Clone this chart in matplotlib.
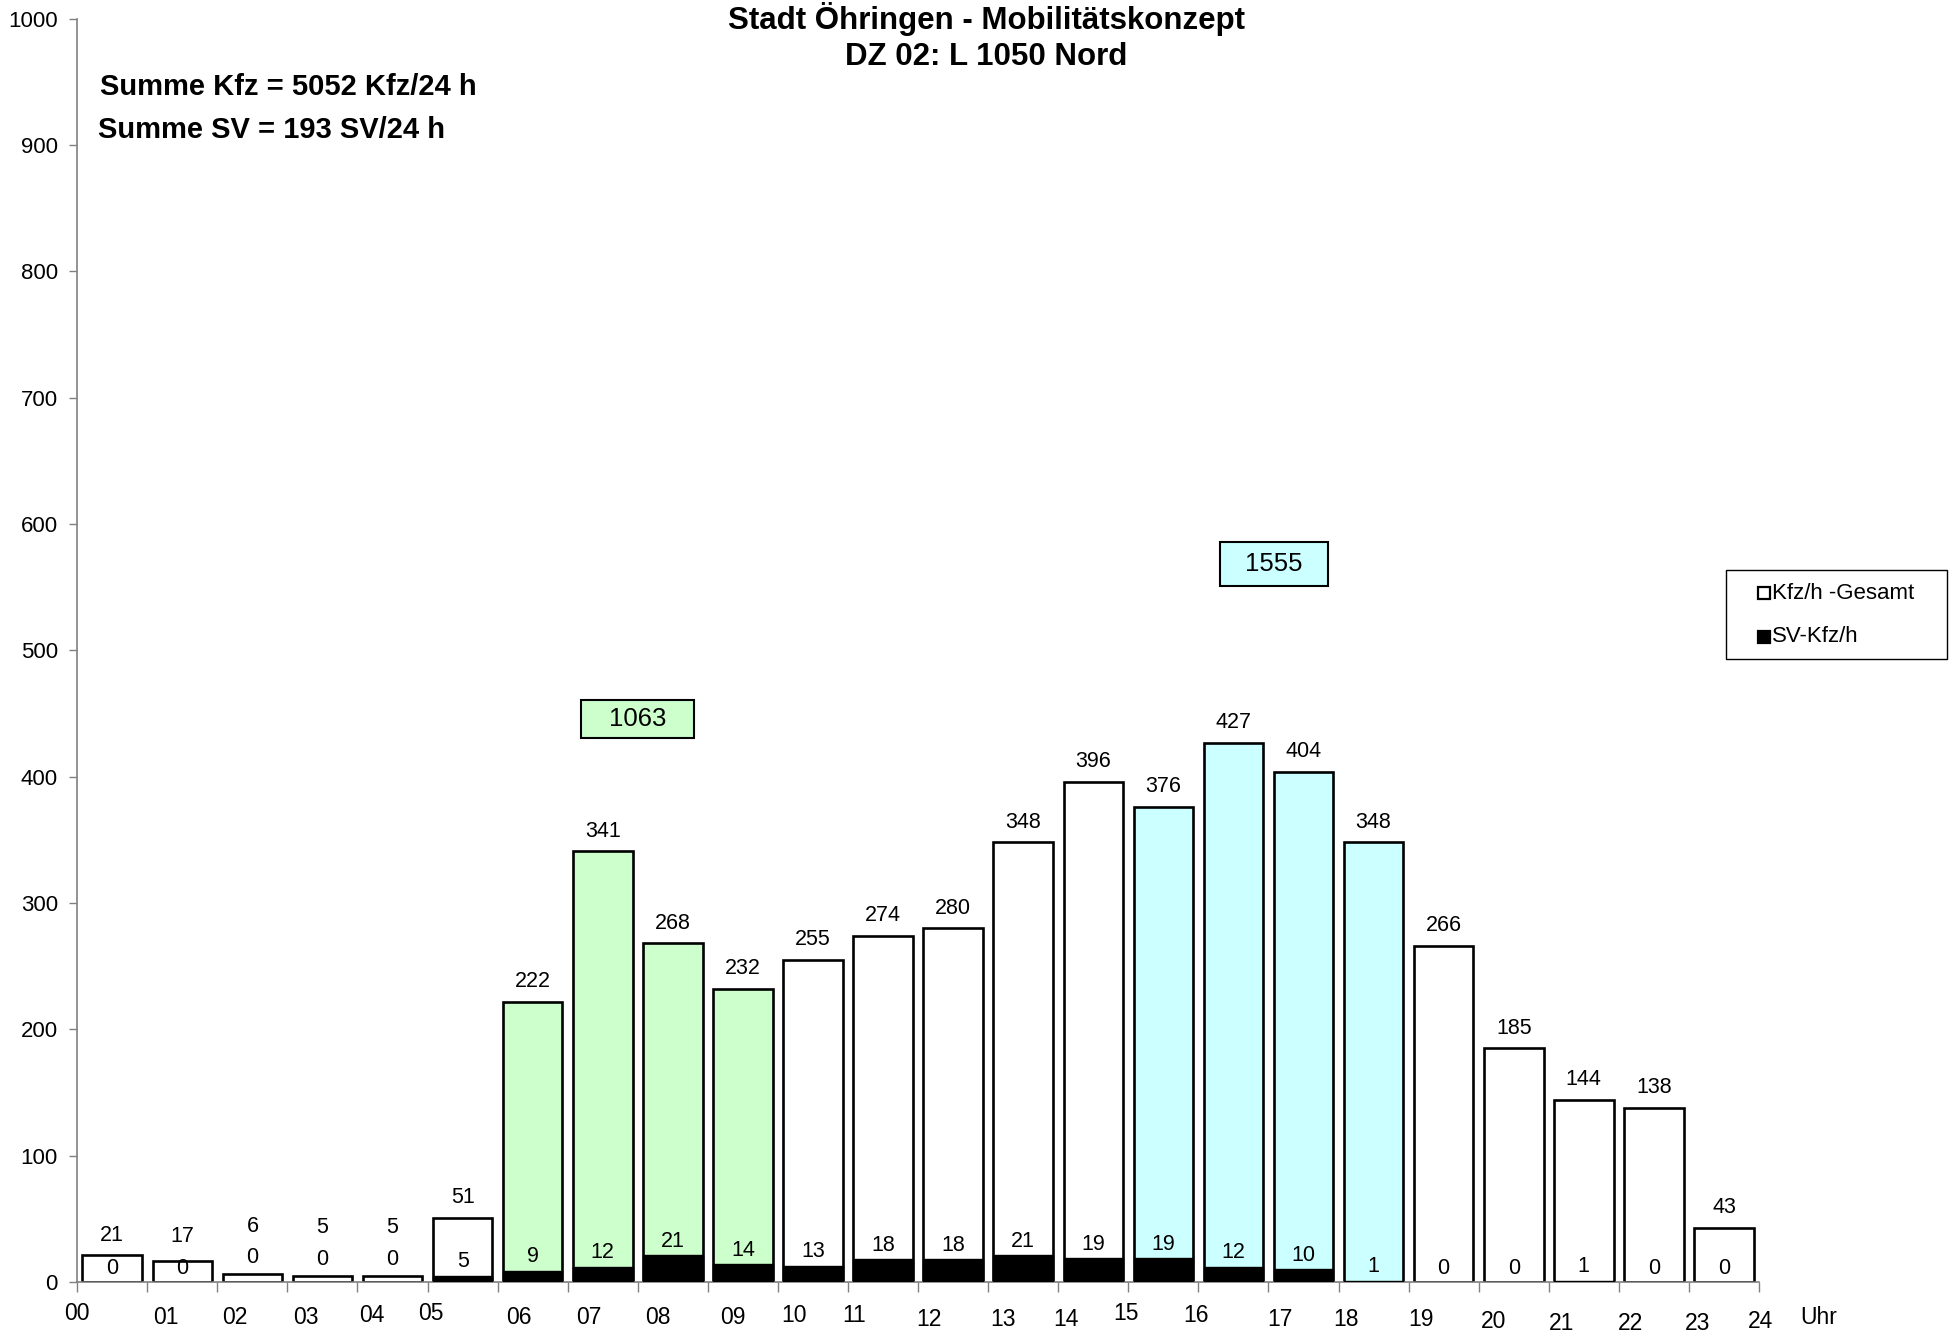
import matplotlib
matplotlib.use("Agg")
import matplotlib.pyplot as plt
from matplotlib.lines import Line2D
from matplotlib.patches import Rectangle

plt.rcParams['font.family'] = ['Liberation Sans', 'DejaVu Sans']

# ---------------- data ----------------
hours = list(range(24))
kfz = [21, 17, 6, 5, 5, 51, 222, 341, 268, 232, 255, 274, 280, 348, 396, 376, 427, 404, 348, 266, 185, 144, 138, 43]
sv = [0, 0, 0, 0, 0, 5, 9, 12, 21, 14, 13, 18, 18, 21, 19, 19, 12, 10, 1, 0, 0, 1, 0, 0]
tick_labels = ["00", "01", "02", "03", "04", "05", "06", "07", "08", "09", "10", "11", "12",
               "13", "14", "15", "16", "17", "18", "19", "20", "21", "22", "23", "24"]
morning_hours = [6, 7, 8, 9]
evening_hours = [15, 16, 17, 18]
title_lines = ["Stadt Öhringen - Mobilitätskonzept", "DZ 02: L 1050 Nord"]
sum_kfz_text = "Summe Kfz = 5052 Kfz/24 h"
sum_sv_text = "Summe SV = 193 SV/24 h"
legend_labels = ["Kfz/h -Gesamt", "SV-Kfz/h"]

# ---------------- style / layout ----------------
GREEN = "#CCFFCC"
CYAN = "#CCFFFF"
W, H = 1952, 1335
# tick label offsets (fraction of hour slot, pixels below axis) to mimic the original
lab_dx = [0, .27, .25, .27, .21, .05, .30, .30, .28, .36, .23, .09, .16, .21, .11, -.04, -.04,
          .16, .11, .18, .21, .18, .16, .12, .02]
lab_dy = [31, 35, 35, 35, 34, 31, 35, 35, 35, 35, 34, 34, 37, 37, 37, 31, 34, 37, 38, 37, 40,
          42, 42, 42, 40]

fig = plt.figure(figsize=(W / 100, H / 100), dpi=100)
ax = fig.add_axes([77.2 / W, 1 - 1282 / H, (1759 - 77.2) / W, (1282 - 18.7) / H])

x = [h + 0.5 for h in hours]
colors = []
for h in hours:
    if h in morning_hours:
        colors.append(GREEN)
    elif h in evening_hours:
        colors.append(CYAN)
    else:
        colors.append("white")

bw = 0.85
ax.bar(x, kfz, width=bw, color=colors, edgecolor="black", linewidth=1.9, zorder=2)
ax.bar(x, sv, width=bw, color="black", edgecolor="black", linewidth=1.0, zorder=3)

for xi, k, s in zip(x, kfz, sv):
    sv_y = s + 11 if k >= 10 else k + 13
    top_y = max(k + 16, sv_y + 25)
    ax.text(xi, top_y, str(k), ha="center", va="center", fontsize=15.5, zorder=4)
    ax.text(xi, sv_y, str(s), ha="center", va="center", fontsize=15.5, zorder=4)

ax.set_xlim(0, 24)
ax.set_ylim(0, 1000)
ax.set_yticks(range(0, 1001, 100))
ax.set_xticks(range(25))
ax.set_xticklabels([])
ax.tick_params(axis="y", labelsize=16, length=6, width=1, color="#808080", pad=8)
ax.tick_params(axis="x", length=7, width=1, color="#808080")
for sp in ["top", "right"]:
    ax.spines[sp].set_visible(False)
for sp in ["left", "bottom"]:
    ax.spines[sp].set_color("#808080")
    ax.spines[sp].set_linewidth(1.2)

for i, lab in enumerate(tick_labels):
    ax.annotate(lab, xy=(i + lab_dx[i], 0), xycoords=("data", "axes fraction"),
                xytext=(0, -lab_dy[i]), textcoords="offset pixels",
                ha="center", va="center", fontsize=16.5, annotation_clip=False)
ax.annotate("Uhr", xy=(1.0, 0), xycoords="axes fraction", xytext=(60, -35),
            textcoords="offset pixels", ha="center", va="center", fontsize=16.5,
            annotation_clip=False)

# peak-hour sums in boxes
def sum_box(hrs, color, yc, bw_slots, bh_units, dx=0.0):
    total = sum(kfz[h] for h in hrs)
    xc = (min(hrs) + max(hrs) + 1) / 2 + dx
    ax.add_patch(Rectangle((xc - bw_slots / 2, yc - bh_units / 2), bw_slots, bh_units,
                           facecolor=color, edgecolor="black", linewidth=1.5, zorder=5))
    ax.text(xc, yc, str(total), ha="center", va="center", fontsize=18.5, zorder=6)

sum_box(morning_hours, GREEN, 445.5, 1.61, 30)
sum_box(evening_hours, CYAN, 568.5, 1.54, 35, dx=0.08)

fig.text(986 / W, 1 - 19 / H, title_lines[0], ha="center", va="center", fontsize=22.5,
         fontweight="bold")
fig.text(986 / W, 1 - 57 / H, title_lines[1], ha="center", va="center", fontsize=22.5,
         fontweight="bold")
fig.text(100 / W, 1 - 87 / H, sum_kfz_text, ha="left", va="center", fontsize=21,
         fontweight="bold")
fig.text(98 / W, 1 - 130 / H, sum_sv_text, ha="left", va="center", fontsize=21,
         fontweight="bold")

# legend drawn as a framed box in figure pixels
fig.add_artist(Rectangle((1725.6 / W, 1 - 659 / H), (1947 - 1725.6) / W, (659 - 570) / H,
                         transform=fig.transFigure, facecolor="white", edgecolor="black",
                         linewidth=1.0))
row_y = [593, 637]
faces = ["white", "black"]
for lab, ry, fc in zip(legend_labels, row_y, faces):
    fig.add_artist(Line2D([1764 / W], [1 - ry / H], transform=fig.transFigure, marker="s",
                          linestyle="none", markerfacecolor=fc, markeredgecolor="black",
                          markeredgewidth=1.6, markersize=8))
    fig.text(1772 / W, 1 - ry / H, lab, ha="left", va="center", fontsize=16)

fig.savefig("out.png", dpi=100)
